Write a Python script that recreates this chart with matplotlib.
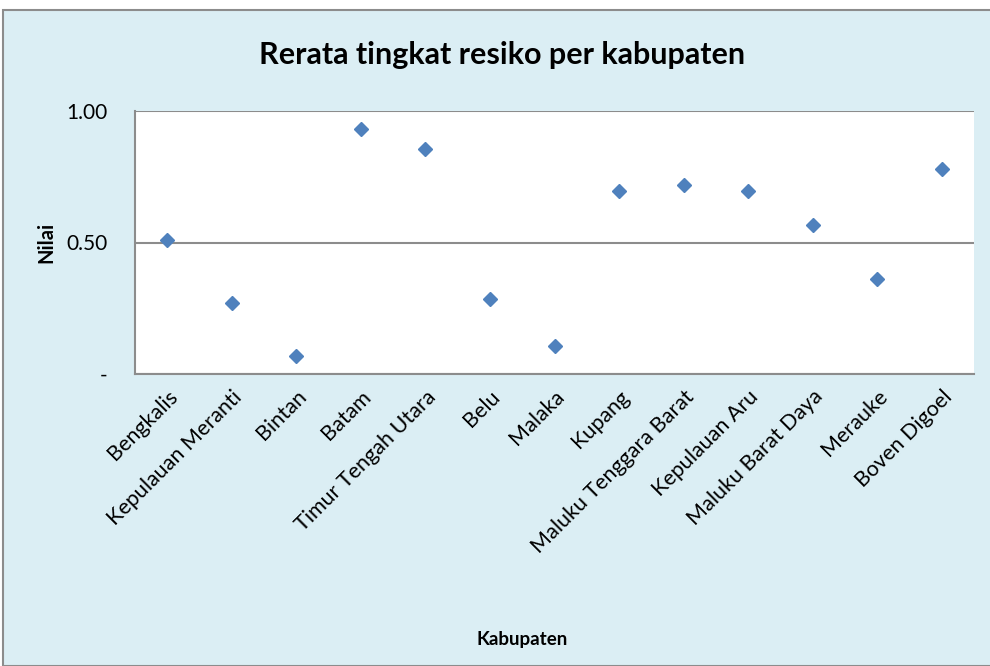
import matplotlib
matplotlib.use("Agg")
import matplotlib.pyplot as plt
import matplotlib.patches as mpatches

kabupaten = ["Bengkalis", "Kepulauan Meranti", "Bintan", "Batam", "Timur Tengah Utara",
             "Belu", "Malaka", "Kupang", "Maluku Tenggara Barat", "Kepulauan Aru",
             "Maluku Barat Daya", "Merauke", "Boven Digoel"]
nilai = [0.51, 0.27, 0.07, 0.93, 0.855, 0.285, 0.105, 0.695, 0.72, 0.695, 0.565, 0.36, 0.78]
yticks = [0, 0.5, 1.0]
ytick_labels = ["-", "0.50", "1.00"]

plt.rcParams['font.family'] = ['Lato', 'DejaVu Sans']

W, H = 990, 666
fig = plt.figure(figsize=(W / 100, H / 100), dpi=100, facecolor='white')

# outer chart box
fig.patches.append(mpatches.Rectangle((3 / W, 0), 1, 1 - 10 / H, transform=fig.transFigure,
                                      facecolor='#DBEEF4', edgecolor='#8C8C8C', linewidth=1.5,
                                      zorder=-10))

ax = fig.add_axes([135 / W, (H - 374) / H, (974 - 135) / W, (374 - 111) / H])
ax.set_facecolor('white')

x = list(range(len(kabupaten)))
ax.plot(x, nilai, linestyle='none', marker='D', markersize=7,
        color='#4F81BD', markeredgecolor='#4F81BD', zorder=3)

ax.set_xlim(-0.5, len(kabupaten) - 0.5)
ax.set_ylim(0, 1.0)
ax.set_yticks(yticks)
ax.set_yticklabels(ytick_labels, fontsize=15)
ax.set_xticks(x)
ax.set_xticklabels(kabupaten, rotation=45, ha='right', rotation_mode='anchor', fontsize=15.5)
ax.tick_params(axis='both', length=0)
ax.tick_params(axis='y', pad=20)
ax.tick_params(axis='x', pad=9)

ax.grid(axis='y', color='#8C8C8C', linewidth=1.5)
ax.set_axisbelow(True)
for s in ['top', 'right']:
    ax.spines[s].set_visible(False)
for s in ['left', 'bottom']:
    ax.spines[s].set_color('#8C8C8C')
    ax.spines[s].set_linewidth(1.5)

fig.text(502 / W, 1 - 55 / H, "Rerata tingkat resiko per kabupaten", ha='center', va='center',
         fontsize=22, fontweight='bold')
fig.text(46 / W, 1 - 242 / H, "Nilai", ha='center', va='center', rotation=90,
         fontsize=14.5, fontweight='bold')
fig.text(522 / W, 1 - 640 / H, "Kabupaten", ha='center', va='center',
         fontsize=13.5, fontweight='bold')

fig.savefig("out.png", dpi=100, facecolor=fig.get_facecolor())
